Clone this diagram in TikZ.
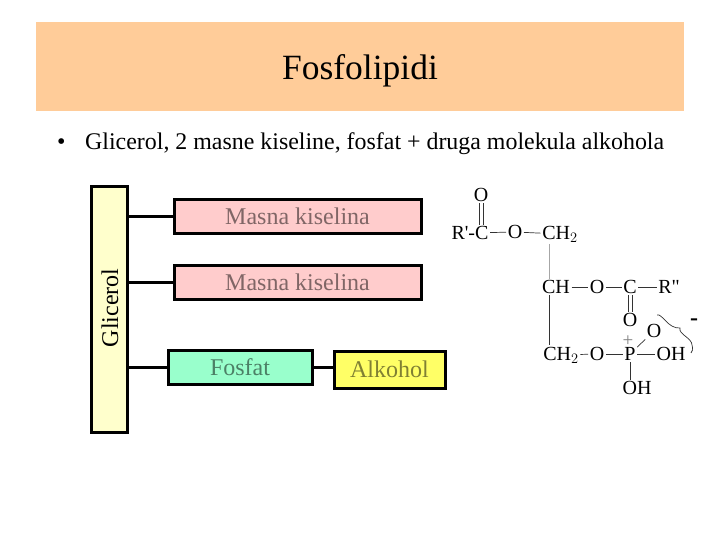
\documentclass[tikz,border=0pt]{standalone}
\usepackage{fontspec}
\setmainfont{Liberation Serif}
\newfontfamily\chemfont{Liberation Serif}
\usetikzlibrary{calc}
\definecolor{bandcol}{HTML}{FFCC99}
\definecolor{glycol}{HTML}{FFFFCC}
\definecolor{acidcol}{HTML}{FFCCCC}
\definecolor{phoscol}{HTML}{99FFCC}
\definecolor{alcocol}{HTML}{FFFF66}
\tikzset{
  part/.style={draw=black,line width=3pt,minimum height=34pt,inner sep=0pt,font=\fontsize{24}{26}\selectfont},
  link/.style={line width=3pt},
  atom/.style={inner sep=1.5pt,font=\chemfont\fontsize{20}{22}\selectfont},
  bond/.style={line width=0.7pt,black!80},
}
\begin{document}
\begin{tikzpicture}[x=1pt,y=-1pt]
    \useasboundingbox (0,0) rectangle (720,540);
    % Title band and bullet
    \fill[bandcol] (36,22) rectangle (684,111);
    \node[font=\fontsize{35.5}{38}\selectfont] (title) at (360,71) {Fosfolipidi};
    \node[font=\fontsize{24}{26}\selectfont,anchor=base west,inner sep=0pt] (bullet) at (57,150) {•};
    \node[font=\fontsize{23.9}{26}\selectfont,anchor=base west,inner sep=0pt] (line) at (85,150) {Glicerol, 2 masne kiseline, fosfat + druga molekula alkohola};
    % Blocks
    \node[part,fill=glycol,minimum width=36pt,minimum height=245pt] (gly) at (109,309.5) {};
    \node[font=\fontsize{24}{26}\selectfont,rotate=90,inner sep=0pt] (glytext) at (110,308) {Glicerol};
    \node[part,fill=acidcol,minimum width=247pt,text=black!50!acidcol] (acid1) at (297.5,216.5) {Masna kiselina};
    \node[part,fill=acidcol,minimum width=247pt,text=black!50!acidcol] (acid2) at (297.5,282.5) {Masna kiselina};
    \node[part,fill=phoscol,minimum width=144pt,text=black!50!phoscol] (phos) at (240,367) {Fosfat};
    \node[part,fill=alcocol,minimum width=111pt,minimum height=37pt,text=black!50!alcocol] (alco) at (389.5,369.5) {Alkohol};
    \draw[link] (acid1.west) -- (acid1.west -| gly.east);
    \draw[link] (acid2.west) -- (acid2.west -| gly.east);
    \draw[link] (phos.west) -- (phos.west -| gly.east);
    \draw[link] (phos.east) -- (phos.east -| alco.west);
    % Formula, first row
    \node[atom] (o1) at (481,195) {O};
    \node[atom] (c1) at (470,233) {R'-C};
    \node[atom] (o2) at (515,232) {O};
    \node[atom] (ch2a) at (560,234) {CH$_2$};
    % Formula, second row
    \node[atom] (ch) at (556,287) {CH};
    \node[atom] (o3) at (597,287) {O};
    \node[atom] (c2) at (630,287) {C};
    \node[atom] (r2) at (669,287) {R"};
    \node[atom] (o4) at (630,320) {O};
    % Formula, third row
    \node[atom] (ch2b) at (561,355) {CH$_2$};
    \node[atom] (o5) at (597,354) {O};
    \node[atom] (p) at (630,354) {P};
    \node[atom] (oh1) at (671,354) {OH};
    \node[atom] (o6) at (654,331) {O};
    \node[atom] (oh2) at (637,388) {OH};
    \node[font=\fontsize{24}{26}\selectfont\bfseries,inner sep=0pt] (minus) at (694,322) {-};
    \node[font=\fontsize{19}{21}\selectfont,text=black!50,inner sep=0pt] (plus) at (628,341) {+};
    % Bonds
    \draw[bond] ([xshift=-2pt]o1.south) -- ([xshift=-2pt]o1.south |- c1.north);
    \draw[bond] ([xshift=2pt]o1.south) -- ([xshift=2pt]o1.south |- c1.north);
    \draw[bond] (c1) -- (o2);
    \draw[bond] (o2) -- (ch2a);
    \draw[bond,black!35] ([xshift=-11pt]ch2a.south) -- ([xshift=-7pt]ch.north);
    \draw[bond] ([xshift=-7pt]ch.south) -- ([xshift=-7pt]ch.south |- ch2b.north);
    \draw[bond] (ch) -- (o3);
    \draw[bond] (o3) -- (c2);
    \draw[bond] (c2) -- (r2);
    \draw[bond] ([xshift=-2pt]c2.south) -- ([xshift=-2pt]o4.north);
    \draw[bond] ([xshift=2pt]c2.south) -- ([xshift=2pt]o4.north);
    \draw[bond] (ch2b) -- (o5);
    \draw[bond] (o5) -- (p);
    \draw[bond] (p) -- (oh1);
    \draw[bond] (p) -- (o6);
    \draw[bond] (p.south) -- (p.south |- oh2.north);
    % Brace over the phosphate oxygens
    \draw[bond] (657,315) .. controls (662,313) and (668,329) .. (680,328) .. controls (678,334) and (692,338) .. (692,345) .. controls (693,349) and (693,351) .. (691,353);
\end{tikzpicture}
\end{document}
